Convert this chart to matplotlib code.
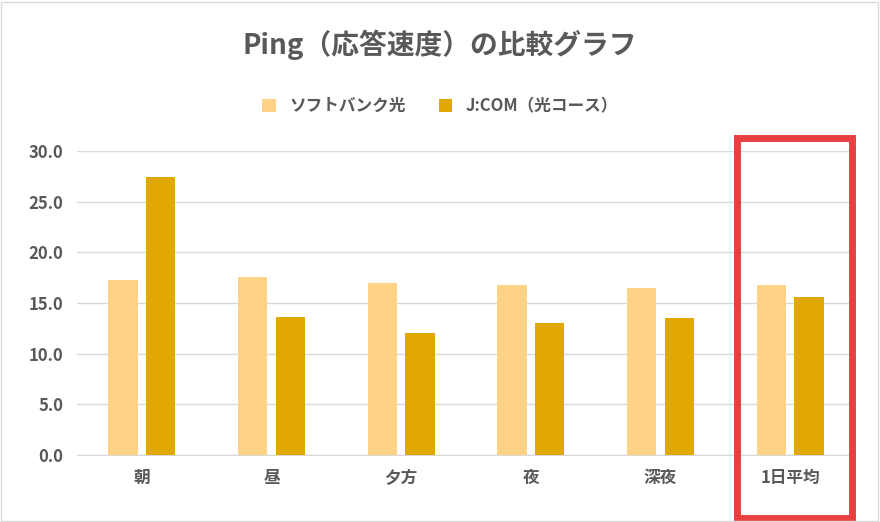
import matplotlib.pyplot as plt
import numpy as np
from matplotlib.patches import Rectangle

plt.rcParams['font.family'] = ['Noto Sans CJK JP', 'DejaVu Sans']

categories = ['朝', '昼', '夕方', '夜', '深夜', '1日平均']
softbank = [17.3, 17.6, 17.0, 16.8, 16.5, 16.8]
jcom = [27.4, 13.6, 12.0, 13.0, 13.5, 15.6]
series_names = ['ソフトバンク光', 'J:COM（光コース）']
colors = ['#FFD285', '#E0A800']

fig = plt.figure(figsize=(8.8, 5.22), dpi=100)
ax = fig.add_axes([77/880, 1-455/522, 778/880, 304/522])

x = np.arange(len(categories))
w = 0.225
ax.bar(x - 0.145, softbank, w, color=colors[0], label=series_names[0], zorder=3)
ax.bar(x + 0.145, jcom, w, color=colors[1], label=series_names[1], zorder=3)

ax.set_xlim(-0.5, len(categories) - 0.5)
ax.set_ylim(0, 30)
ax.set_yticks(np.arange(0, 30.1, 5))
ax.set_yticklabels([f'{v:.1f}' for v in np.arange(0, 30.1, 5)])
ax.set_xticks(x)
ax.set_xticklabels(categories)
ax.grid(axis='y', color='#D9D9D9', linewidth=1, zorder=0)
for s in ['top', 'right', 'left']:
    ax.spines[s].set_visible(False)
ax.spines['bottom'].set_color('#D9D9D9')
ax.tick_params(length=0, labelsize=12, colors='#595959', pad=10)
for t in ax.get_xticklabels() + ax.get_yticklabels():
    t.set_fontweight('bold')

fig.text(0.5, 1-45/522, 'Ping（応答速度）の比較グラフ', ha='center', va='center',
         fontsize=20, fontweight='bold', color='#595959')
fig.legend(loc='center', bbox_to_anchor=(0.5, 1-106/522), ncol=2, frameon=False,
           prop={'size': 12, 'weight': 'bold'}, labelcolor='#595959',
           handlelength=0.8, handleheight=0.8, columnspacing=2)

fig.patches.append(Rectangle((737/880, 1-518/522), 115/880, 380/522,
                             transform=fig.transFigure, fill=False,
                             edgecolor='#E84040', linewidth=5))
fig.patches.append(Rectangle((1/880, 1/522), 877/880, 519/522,
                             transform=fig.transFigure, fill=False,
                             edgecolor='#D9D9D9', linewidth=1))

fig.savefig('out.png')
